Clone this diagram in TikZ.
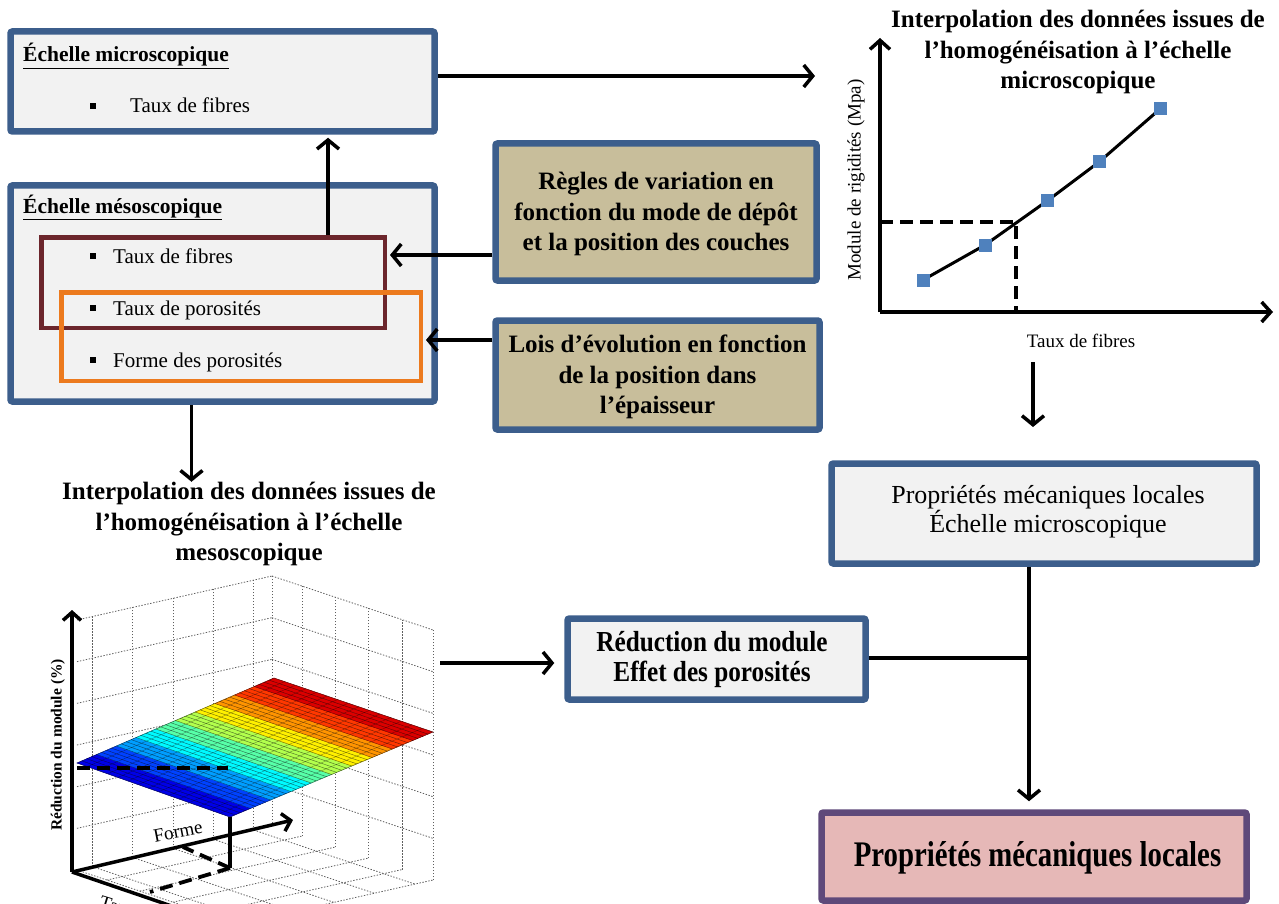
\documentclass[tikz,border=0pt]{standalone}
\usepackage{fontspec}
\setmainfont{Liberation Serif}
\newfontfamily\narrowA[FakeStretch=0.8]{Liberation Serif}
\newfontfamily\narrowB[FakeStretch=0.87]{Liberation Serif}
\usetikzlibrary{arrows.meta,calc}
\definecolor{bdblue}{RGB}{60,94,140}
\definecolor{boxgray}{RGB}{242,242,242}
\definecolor{tanfill}{RGB}{200,190,155}
\definecolor{innerred}{RGB}{108,38,44}
\definecolor{orng}{RGB}{236,122,30}
\definecolor{pinkfill}{RGB}{230,184,183}
\definecolor{purpbd}{RGB}{95,73,122}
\definecolor{markblue}{RGB}{79,129,189}
\definecolor{gridgray}{RGB}{95,95,95}
\newcommand\sqbul{\raisebox{4pt}{\rule{6pt}{6pt}}}
\tikzset{
  bluebox/.style={draw=bdblue, line width=6.5pt, fill=boxgray, rounded corners=2pt, inner sep=0pt},
  tanbox/.style={bluebox, fill=tanfill},
  redbox/.style={draw=innerred, line width=4.5pt, inner sep=0pt},
  orbox/.style={draw=orng, line width=4.5pt, inner sep=0pt},
  finalbox/.style={draw=purpbd, line width=6.5pt, fill=pinkfill, rounded corners=2pt, inner sep=0pt},
  arr/.style={line width=3.5pt, -{Straight Barb[length=9pt,width=22pt]}},
  conn/.style={line width=3.5pt},
  txt/.style={inner sep=0pt, anchor=base west},
  bighead/.style={font=\fontsize{25}{30.5}\selectfont\bfseries, align=center, inner sep=0pt},
  griddot/.style={gridgray, line width=0.8pt, dash pattern=on 1.4pt off 1.6pt},
  dashthick/.style={line width=3.8pt, dash pattern=on 13pt off 7pt},
  marker/.style={fill=markblue, minimum size=13pt, inner sep=0pt, rectangle}
}
\begin{document}
\begin{tikzpicture}[x=1pt,y=-1pt]
\useasboundingbox (0,0) rectangle (1279,904);
\fill[white] (0,0) rectangle (1279,904);

% ---------- left boxes ----------
\node[bluebox, minimum width=424pt, minimum height=100pt] (micro) at (222.5,81.5) {};
\node[txt, font=\fontsize{21.5}{26}\selectfont\bfseries] (microhead) at (23,62) {\underline{Échelle microscopique}};
\node[txt, font=\fontsize{21}{26}\selectfont] (microb) at (90,113) {\sqbul};
\node[txt, font=\fontsize{21}{26}\selectfont] (microt) at (130,113) {Taux de fibres};

\node[bluebox, minimum width=424pt, minimum height=216pt] (meso) at (222.5,293.5) {};
\node[txt, font=\fontsize{21.5}{26}\selectfont\bfseries] (mesohead) at (23,213) {\underline{Échelle mésoscopique}};
\node[redbox, minimum width=343.5pt, minimum height=90.5pt] (red) at (213,282.5) {};
\node[orbox, minimum width=359.5pt, minimum height=88.5pt] (orange) at (241,336.5) {};
\node[txt, font=\fontsize{21}{26}\selectfont] (b1) at (90,263) {\sqbul};
\node[txt, font=\fontsize{21}{26}\selectfont] (t1) at (113,263) {Taux de fibres};
\node[txt, font=\fontsize{21}{26}\selectfont] (b2) at (90,315) {\sqbul};
\node[txt, font=\fontsize{21}{26}\selectfont] (t2) at (113,315) {Taux de porosités};
\node[txt, font=\fontsize{21}{26}\selectfont] (b3) at (90,367) {\sqbul};
\node[txt, font=\fontsize{21}{26}\selectfont] (t3) at (113,367) {Forme des porosités};

% ---------- middle boxes ----------
\node[tanbox, minimum width=321pt, minimum height=137pt] (regles) at (656,212) {};
\node[bighead] (reglest) at (656,214) {Règles de variation en\\fonction du mode de dépôt\\et la position des couches};
\node[tanbox, minimum width=324pt, minimum height=109pt] (lois) at (657.5,375) {};
\node[bighead] (loist) at (657.5,377) {Lois d’évolution en fonction\\de la position dans\\l’épaisseur};

% ---------- right boxes ----------
\node[bluebox, minimum width=298pt, minimum height=81pt] (reduc) at (716.5,659) {};
\node[inner sep=0pt, align=center, font=\narrowB\fontsize{29}{30}\selectfont\bfseries] (reduct) at (712,660) {Réduction du module\\Effet des porosités};
\node[bluebox, minimum width=425pt, minimum height=100pt] (props) at (1044,513.5) {};
\node[inner sep=0pt, align=center, font=\fontsize{26}{29}\selectfont] (propst) at (1048,512) {Propriétés mécaniques locales\\Échelle microscopique};
\node[finalbox, minimum width=425pt, minimum height=88pt] (final) at (1034,856.5) {};
\node[inner sep=0pt, font=\narrowA\fontsize{36}{40}\selectfont\bfseries] (finalt) at (1037.5,858) {Propriétés mécaniques locales};

% ---------- chart (top right) ----------
\node[bighead] (charttitle) at (1078,52) {Interpolation des données issues de\\l’homogénéisation à l’échelle\\microscopique};
\coordinate (corig) at (880,312);
\coordinate (ctop) at (880,38);
\coordinate (cright) at (1273,312);
\coordinate (chartin) at (815,76);
\coordinate (hit) at (1016,222);
\draw[dashthick] (corig |- hit) -- (hit) -- (hit |- corig);
\draw[arr, -{Straight Barb[length=9pt,width=20pt]}] (corig) -- (ctop);
\draw[arr, -{Straight Barb[length=9pt,width=20pt]}] (corig) -- (cright);
\node[marker] (p1) at (923,280) {};
\node[marker] (p2) at (985,245) {};
\node[marker] (p3) at (1047,201) {};
\node[marker] (p4) at (1099,162) {};
\node[marker] (p5) at (1160,109) {};
\draw[line width=3pt] (p1.center) -- (p2.center) -- (p3.center) -- (p4.center) -- (p5.center);
\foreach \p in {p1,p2,p3,p4,p5} \node[marker] at (\p) {};
\node[inner sep=0pt, rotate=90, font=\fontsize{19}{22}\selectfont] (ylab) at (856,180) {Module de rigidités (Mpa)};
\node[inner sep=0pt, font=\fontsize{19}{22}\selectfont] (xlab) at (1081,341) {Taux de fibres};
\coordinate (cdown1) at (1033,362);
\coordinate (cdown2) at (1033,427);

% ---------- 3D plot (bottom left) ----------
\node[bighead] (mesotitle) at (249,524) {Interpolation des données issues de\\l’homogénéisation à l’échelle\\mesoscopique};
\coordinate (O) at (77,870);
\coordinate (B) at (272,826);
\coordinate (R) at (433,880);
\coordinate (W) at (0,-250);
% left wall
\foreach \k in {1,...,6}{
  \draw[griddot] ($(O)+\k/6*(W)$) -- ($(B)+\k/6*(W)$);
}
\foreach \f in {0.078,0.285,0.492,0.699,0.907,1.0}{
  \draw[griddot] ($(O)!\f!(B)$) -- ($($(O)!\f!(B)$)+(W)$);
}
% right wall
\foreach \k in {1,...,6}{
  \draw[griddot] ($(B)+\k/6*(W)$) -- ($(R)+\k/6*(W)$);
}
\foreach \g in {0.186,0.391,0.596,0.807,1.0}{
  \draw[griddot] ($(B)!\g!(R)$) -- ($($(B)!\g!(R)$)+(W)$);
}
% floor
\foreach \g in {0,0.186,0.391,0.596,0.807,1.0}{
  \draw[griddot] ($(O)+\g*($(R)-(B)$)$) -- ($(B)+\g*($(R)-(B)$)$);
}
\foreach \f in {0,0.078,0.285,0.492,0.699,0.907}{
  \draw[griddot] ($(O)!\f!(B)$) -- ($($(O)!\f!(B)$)+($(R)-(B)$)$);
}
% surface
\coordinate (SL) at (77,763);
\coordinate (SF) at (230,817);
\coordinate (SR) at (433,732);
\coordinate (SB) at (274,678);
\foreach \i in {0,...,39}{
  \pgfmathsetmacro\jt{0.1+0.09*floor(\i/4)}
  \pgfmathsetmacro\jr{max(0,min(1,1.5-abs(4*\jt-3)))}
  \pgfmathsetmacro\jg{max(0,min(1,1.5-abs(4*\jt-2)))}
  \pgfmathsetmacro\jb{max(0,min(1,1.5-abs(4*\jt-1)))}
  \definecolor{jetc}{rgb}{\jr,\jg,\jb}
  \pgfmathsetmacro\ta{\i/40}
  \pgfmathsetmacro\tb{(\i+1)/40}
  \filldraw[fill=jetc, draw=jetc, line width=0.3pt] ($(SL)!\ta!(SB)$) -- ($(SL)!\tb!(SB)$) -- ($(SF)!\tb!(SR)$) -- ($(SF)!\ta!(SR)$) -- cycle;
}
\foreach \i in {1,...,39}{
  \pgfmathsetmacro\ta{\i/40}
  \draw[black, opacity=0.55, line width=0.45pt] ($(SL)!\ta!(SB)$) -- ($(SF)!\ta!(SR)$);
}
\foreach \j in {1,...,14}{
  \pgfmathsetmacro\ta{\j/15}
  \draw[black, opacity=0.4, line width=0.4pt] ($(SL)!\ta!(SF)$) -- ($(SB)!\ta!(SR)$);
}
\draw[black, opacity=0.6, line width=0.5pt] (SL) -- (SB) -- (SR) -- (SF) -- cycle;
% dashed projections
\coordinate (dcorner) at (230,868);
\coordinate (hzend) at (228,768);
\draw[dashthick] (SL |- hzend) -- (hzend);
\draw[conn] (SF) -- (dcorner);
\draw[dashthick] (dcorner) -- (183,847);
\draw[dashthick] (dcorner) -- (150,892);
% axes
\coordinate (AO) at (72,872);
\draw[arr, -{Straight Barb[length=8pt,width=18pt]}] (AO) -- (72,610);
\draw[arr, -{Straight Barb[length=8pt,width=18pt]}] (AO) -- (293,820);
\draw[line width=3.5pt] (AO) -- (195,914);
\node[inner sep=0pt, rotate=90, font=\fontsize{15.5}{18}\selectfont\bfseries] (zlab) at (58,745) {Réduction du module (\%)};
\node[inner sep=0pt, rotate=11, font=\fontsize{19}{22}\selectfont] (formelab) at (178,832) {Forme};
\node[inner sep=0pt, rotate=-17, anchor=north west, font=\fontsize{19}{22}\selectfont] (tauxlab) at (102,895) {Taux};
\coordinate (plotout) at (440,663);

% ---------- connectors ----------
\coordinate (redtop) at ([xshift=115pt]red.north);
\coordinate (rgout) at ([yshift=-43pt]regles.west);
\coordinate (loisout) at ([yshift=35pt]lois.west);
\coordinate (mesoout) at ([xshift=-31pt]meso.south);
\coordinate (mesoarr) at ([yshift=-77pt]mesoout);
\draw[arr, shorten >=3pt] (redtop) -- (redtop |- micro.south);
\draw[arr] ([yshift=5.5pt]micro.east) -- (chartin);
\draw[arr, shorten >=3pt] (rgout) -- (red.east |- rgout);
\draw[arr, shorten >=3pt] (loisout) -- (orange.east |- loisout);
\draw[arr] (mesoout) -- (mesoarr);
\draw[arr] (cdown1) -- (cdown2);
\draw[arr, shorten >=10pt] (plotout) -- (reduc.west |- plotout);
\coordinate (junction) at (1029,658);
\draw[conn] (reduc.east |- junction) -- (junction);
\draw[arr, shorten >=8pt] (props.south -| junction) -- (final.north -| junction);
\end{tikzpicture}
\end{document}
